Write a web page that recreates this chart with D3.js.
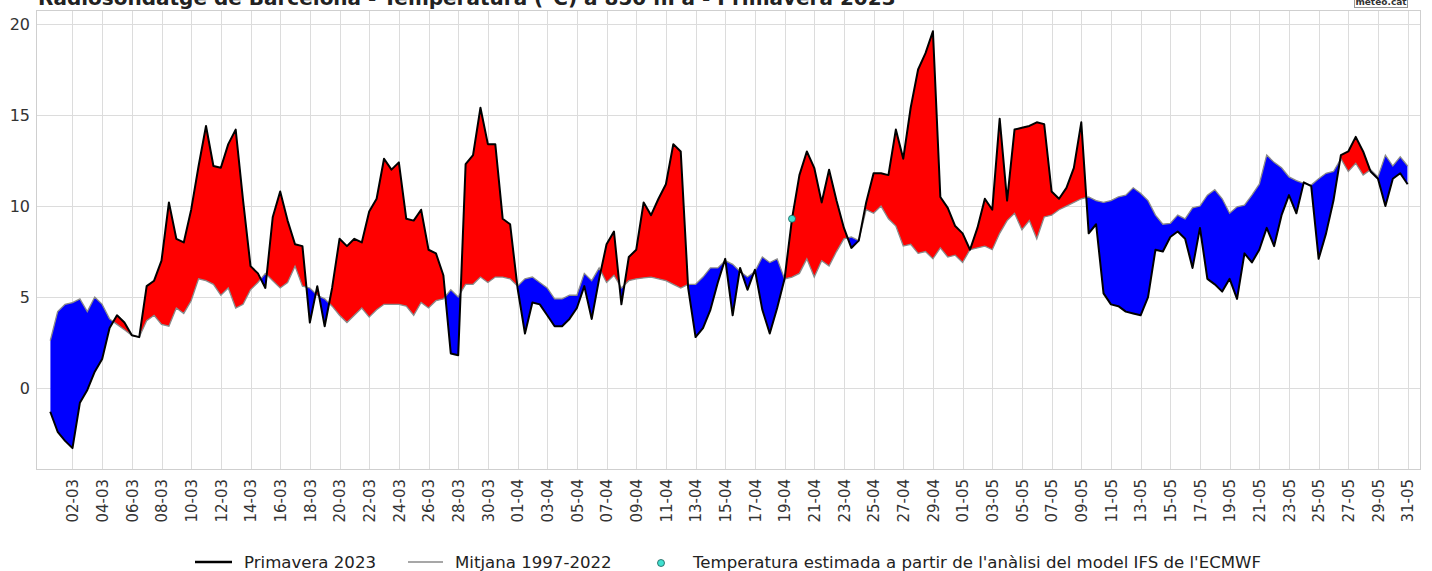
<!DOCTYPE html>
<html><head><meta charset="utf-8">
<script src="https://cdn.jsdelivr.net/npm/d3@7"></script>
<style>body{margin:0;background:#fff;overflow:hidden} svg{display:block;font-family:"DejaVu Sans",sans-serif;}</style>
</head><body><svg id="c" width="1432" height="571"></svg>
<script>
// Radiosondatge de Barcelona, 850 hPa, 12-hourly soundings from 01-03-2023 00Z
const titleText = "Radiosondatge de Barcelona - Temperatura (°C) a 850 hPa - Primavera 2023";
const tickLabels = ["02-03","04-03","06-03","08-03","10-03","12-03","14-03","16-03","18-03","20-03","22-03","24-03","26-03","28-03","30-03",
  "01-04","03-04","05-04","07-04","09-04","11-04","13-04","15-04","17-04","19-04","21-04","23-04","25-04","27-04","29-04",
  "01-05","03-05","05-05","07-05","09-05","11-05","13-05","15-05","17-05","19-05","21-05","23-05","25-05","27-05","29-05","31-05"];
const yTicks = [0, 5, 10, 15, 20];
const primavera2023 = [
  -1.3,-2.4,-2.9,-3.3,-0.8,-0.1,0.9,1.6,3.3,4.0,
  3.6,2.9,2.8,5.6,5.9,7.0,10.2,8.2,8.0,9.8,
  12.2,14.4,12.2,12.1,13.4,14.2,10.3,6.7,6.3,5.5,
  9.4,10.8,9.2,7.9,7.8,3.6,5.6,3.4,5.5,8.2,
  7.8,8.2,8.0,9.7,10.4,12.6,12.0,12.4,9.3,9.2,
  9.8,7.6,7.4,6.2,1.9,1.8,12.3,12.8,15.4,13.4,
  13.4,9.3,9.0,5.5,3.0,4.7,4.6,4.0,3.4,3.4,
  3.8,4.4,5.6,3.8,6.0,7.9,8.6,4.6,7.2,7.6,
  10.2,9.5,10.4,11.2,13.4,13.0,5.5,2.8,3.3,4.3,
  5.8,7.1,4.0,6.6,5.4,6.5,4.3,3.0,4.4,6.0,
  9.3,11.7,13.0,12.1,10.2,12.0,10.3,8.8,7.7,8.1,
  10.2,11.8,11.8,11.7,14.2,12.6,15.4,17.5,18.4,19.6,
  10.5,9.9,8.9,8.5,7.6,8.8,10.4,9.8,14.8,10.3,
  14.2,14.3,14.4,14.6,14.5,10.8,10.4,11.0,12.1,14.6,
  8.5,9.0,5.2,4.6,4.5,4.2,4.1,4.0,5.0,7.6,
  7.5,8.3,8.6,8.2,6.6,8.8,6.0,5.7,5.3,6.0,
  4.9,7.4,6.9,7.6,8.8,7.8,9.5,10.6,9.6,11.3,
  11.1,7.1,8.5,10.3,12.8,13.0,13.8,13.0,11.9,11.5,
  10.0,11.5,11.8,11.2];
const mitjana = [
  2.6,4.2,4.6,4.7,4.9,4.2,5.0,4.6,3.8,3.5,
  3.2,2.9,2.8,3.7,4.0,3.5,3.4,4.4,4.1,4.8,
  6.0,5.9,5.7,5.1,5.5,4.4,4.6,5.4,5.8,6.3,
  5.9,5.5,5.8,6.7,5.6,5.5,5.1,4.9,4.5,4.0,
  3.6,4.0,4.4,3.9,4.3,4.6,4.6,4.6,4.5,4.0,
  4.7,4.4,4.8,4.9,5.4,5.0,5.7,5.7,6.1,5.8,
  6.1,6.1,6.0,5.6,6.0,6.1,5.8,5.5,4.9,4.9,
  5.1,5.1,6.3,5.9,6.6,5.8,6.2,5.5,5.9,6.0,
  6.05,6.1,6.0,5.9,5.7,5.5,5.7,5.7,6.1,6.6,
  6.6,7.0,6.8,6.4,6.1,6.4,7.2,6.9,7.1,6.0,
  6.1,6.3,7.1,6.1,7.0,6.7,7.5,8.2,8.3,8.1,
  9.8,9.6,10.0,9.3,8.9,7.8,7.9,7.4,7.5,7.1,
  7.7,7.2,7.3,6.9,7.6,7.7,7.8,7.6,8.5,9.2,
  9.6,8.7,9.2,8.2,9.4,9.5,9.8,10.0,10.2,10.4,
  10.5,10.3,10.2,10.3,10.5,10.6,11.0,10.7,10.3,9.5,
  9.0,9.05,9.5,9.3,9.9,10.0,10.6,10.9,10.4,9.6,
  9.96,10.05,10.6,11.2,12.8,12.4,12.1,11.6,11.4,11.25,
  11.15,11.5,11.8,11.9,12.6,11.9,12.35,11.7,12.0,11.6,
  12.8,12.2,12.7,12.2];
// sounding estimated from the ECMWF IFS analysis (observation index, value)
const estimatedIndex = [100];
const estimatedValue = [9.3];
const legendLabels = ["Primavera 2023", "Mitjana 1997-2022", "Temperatura estimada a partir de l'anàlisi del model IFS de l'ECMWF"];

const svg = d3.select("#c");
const L = 36, R = 1421, T = 10, B = 470;
const x = d3.scaleLinear().domain([-1.92, 184.8]).range([L, R]);
const y = d3.scaleLinear().domain([-4.5, 20.77]).range([B, T]);
const idx = d3.range(primavera2023.length);
const tickIdx = tickLabels.map((_, k) => 3 + 4 * k);

const defs = svg.append("defs");
defs.append("clipPath").attr("id", "plot").append("rect").attr("x", L).attr("y", T).attr("width", R - L).attr("height", B - T);
defs.append("clipPath").attr("id", "above").append("path")
  .attr("d", d3.area().x(i => x(i)).y0(T).y1(i => y(mitjana[i]))(idx));
defs.append("clipPath").attr("id", "below").append("path")
  .attr("d", d3.area().x(i => x(i)).y0(i => y(mitjana[i])).y1(B)(idx));

// grid
const grid = svg.append("g").attr("stroke", "#dcdcdc").attr("stroke-width", 1);
grid.selectAll(".v").data(tickIdx).join("line")
  .attr("x1", d => Math.round(x(d)) + 0.5).attr("x2", d => Math.round(x(d)) + 0.5).attr("y1", T).attr("y2", B);
grid.selectAll(".h").data(yTicks).join("line")
  .attr("x1", L).attr("x2", R).attr("y1", d => Math.round(y(d)) + 0.5).attr("y2", d => Math.round(y(d)) + 0.5);

const g = svg.append("g").attr("clip-path", "url(#plot)");
g.append("g").attr("clip-path", "url(#above)").append("path")
  .attr("d", d3.area().x(i => x(i)).y0(B).y1(i => y(primavera2023[i]))(idx))
  .attr("fill", "#ff0000");
g.append("g").attr("clip-path", "url(#below)").append("path")
  .attr("d", d3.area().x(i => x(i)).y0(T).y1(i => y(primavera2023[i]))(idx))
  .attr("fill", "#0000ff");
g.append("path").attr("d", d3.line().x(i => x(i)).y(i => y(mitjana[i]))(idx))
  .attr("fill", "none").attr("stroke", "#8a8a8a").attr("stroke-width", 1.3);
g.append("path").attr("d", d3.line().x(i => x(i)).y(i => y(primavera2023[i]))(idx))
  .attr("fill", "none").attr("stroke", "#000").attr("stroke-width", 2).attr("stroke-linejoin", "round");
g.selectAll(".est").data(estimatedIndex).join("circle")
  .attr("cx", (d) => x(d)).attr("cy", (d, k) => y(estimatedValue[k])).attr("r", 3.5)
  .attr("fill", "#40e0d0").attr("stroke", "#1a5a55").attr("stroke-width", 0.8);

// frame
svg.append("rect").attr("x", L + 0.5).attr("y", T + 0.5).attr("width", R - L - 1).attr("height", B - T - 1)
  .attr("fill", "none").attr("stroke", "#cfcfcf").attr("stroke-width", 1);

// axes labels
const ax = d3.axisBottom(x).tickValues(tickIdx).tickFormat((d, k) => tickLabels[k]).tickSize(0);
const xa = svg.append("g").attr("transform", `translate(0,${B})`).call(ax);
xa.select(".domain").remove();
xa.selectAll("text").attr("transform", "rotate(-90)").attr("text-anchor", "end")
  .attr("x", -9).attr("y", 0).attr("dy", "0.35em").attr("font-size", 15).attr("fill", "#333").attr("font-family", "DejaVu Sans");

const ay = d3.axisLeft(y).tickValues(yTicks).tickSize(0);
const ya = svg.append("g").attr("transform", `translate(${L},0)`).call(ay);
ya.select(".domain").remove();
ya.selectAll("text").attr("x", -6).attr("font-size", 16).attr("fill", "#333").attr("font-family", "DejaVu Sans");

// title (cut at the top edge, as in the original)
svg.append("text").attr("x", 38).attr("y", 5).attr("font-weight", "bold").attr("font-size", 20)
  .attr("fill", "#222").text(titleText);

// logo
const lg = svg.append("g");
lg.append("rect").attr("x", 1354.5).attr("y", -3.5).attr("width", 53).attr("height", 11).attr("fill", "#fff").attr("stroke", "#999");
lg.append("text").attr("x", 1381).attr("y", 5).attr("text-anchor", "middle").attr("font-size", 9).attr("fill", "#333").attr("font-weight", "bold").text("meteo.cat");

// legend
const ly = 562;
const leg = svg.append("g").attr("font-size", 16.6).attr("fill", "#222");
leg.append("line").attr("x1", 195).attr("x2", 232).attr("y1", ly).attr("y2", ly).attr("stroke", "#000").attr("stroke-width", 2.5);
leg.append("text").attr("x", 244).attr("y", ly).attr("dy", "0.36em").text(legendLabels[0]);
leg.append("line").attr("x1", 408).attr("x2", 443).attr("y1", ly).attr("y2", ly).attr("stroke", "#8a8a8a").attr("stroke-width", 1.5);
leg.append("text").attr("x", 455).attr("y", ly).attr("dy", "0.36em").text(legendLabels[1]);
leg.append("circle").attr("cx", 661).attr("cy", ly + 1).attr("r", 3.5).attr("fill", "#40e0d0").attr("stroke", "#1a5a55").attr("stroke-width", 0.8);
leg.append("text").attr("x", 693).attr("y", ly).attr("dy", "0.36em").text(legendLabels[2]);
</script></body></html>
